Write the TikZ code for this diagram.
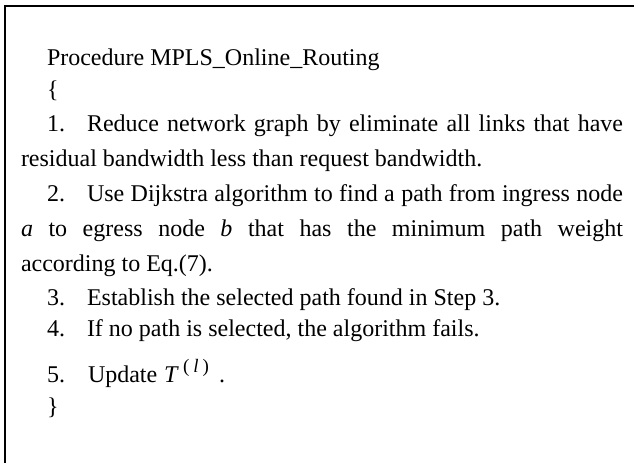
\documentclass[tikz,border=0pt]{standalone}
\usepackage{fontspec}
\setmainfont{Liberation Serif}
\begin{document}
\begin{tikzpicture}[x=1pt,y=-1pt,
  txt/.style={anchor=base west,inner sep=0pt,outer sep=0pt,
    font=\fontsize{24}{28}\selectfont},
  supscript/.style={anchor=base west,inner sep=0pt,outer sep=0pt,
    font=\fontsize{19}{21}\selectfont},
  frameline/.style={line width=2pt,black}]
\useasboundingbox (0,0) rectangle (634,463);
% frame: only the top and left edges fall inside the page
\draw[frameline] (5,463) -- (5,6) -- (634,6);

% heading and opening brace
\node[txt] (title) at (47,65) {Procedure MPLS\_Online\_Routing};
\node[txt] (open)  at (47,97.5) {\{};

% step 1
\node[txt] (n1)  at (47,131) {1.};
\node[txt] (s1a) at (87,131) {\makebox[536pt][s]{Reduce network graph by eliminate all links that have}};
\node[txt] (s1b) at (21,166) {residual bandwidth less than request bandwidth.};

% step 2
\node[txt] (n2)  at (47,201) {2.};
\node[txt] (s2a) at (87,201) {\makebox[536pt][s]{Use Dijkstra algorithm to find a path from ingress node}};
\node[txt] (s2b) at (21,236) {\makebox[602pt][s]{\textit{a} to egress node \textit{b} that has the minimum path weight}};
\node[txt] (s2c) at (21,271) {according to Eq.(7).};

% steps 3 and 4
\node[txt] (n3) at (47,305) {3.};
\node[txt] (s3) at (87,305) {Establish the selected path found in Step 3.};
\node[txt] (n4) at (47,336) {4.};
\node[txt] (s4) at (87,336) {If no path is selected, the algorithm fails.};

% step 5 with the T^(l) term
\node[txt] (n5)  at (47,382) {5.};
\node[txt] (s5)  at (88,382) {Update};
\node[txt] (tt)  at (164,382) {\textit{T}};
\node[supscript] (tsup) at (183,372) {(\hspace{4pt}\textit{l}\hspace{4pt})};
\node[txt] (dot) at (219,382) {.};

% closing brace
\node[txt] (close) at (47,414) {\}};
\end{tikzpicture}
\end{document}
